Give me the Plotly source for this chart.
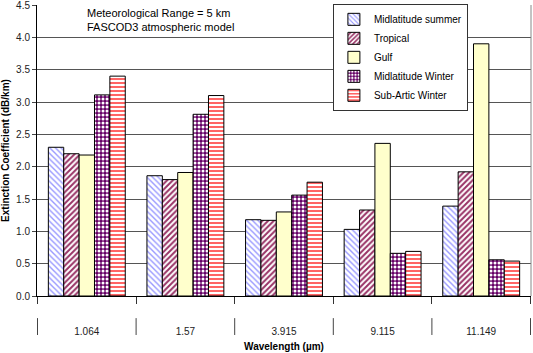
import plotly.graph_objects as go

# wavelength groups (um)
wavelengths = ["1.064", "1.57", "3.915", "9.115", "11.149"]

# extinction coefficient (dB/km) per atmospheric model
midlat_summer = [2.30, 1.86, 1.18, 1.03, 1.39]
tropical = [2.20, 1.80, 1.17, 1.33, 1.92]
gulf = [2.18, 1.91, 1.30, 2.36, 3.90]
midlat_winter = [3.11, 2.81, 1.56, 0.66, 0.56]
subartic_winter = [3.40, 3.10, 1.76, 0.69, 0.54]

series = [
    ("Midlatitude summer", midlat_summer,
     dict(shape="\\", fgcolor="#9999FF", bgcolor="white", size=4, solidity=0.35)),
    ("Tropical", tropical,
     dict(shape="/", fgcolor="#993366", bgcolor="white", size=4, solidity=0.5)),
    ("Gulf", gulf, None),
    ("Midlatitude Winter", midlat_winter,
     dict(shape=".", fgcolor="white", bgcolor="#660066", size=4, solidity=0.45)),
    ("Sub-Artic Winter", subartic_winter,
     dict(shape="-", fgcolor="#FF6666", bgcolor="white", size=4, solidity=0.5)),
]

FONT = "Arial, Liberation Sans, sans-serif"

fig = go.Figure()

for name, vals, pat in series:
    marker = dict(line=dict(color="black", width=1))
    if pat is None:
        marker["color"] = "#FFFFCC"
    else:
        marker["color"] = pat["bgcolor"]
        marker["pattern"] = dict(
            shape=pat["shape"], fgcolor=pat["fgcolor"], bgcolor=pat["bgcolor"],
            size=pat["size"], solidity=pat["solidity"], fillmode="replace"
        )
    fig.add_trace(go.Bar(x=wavelengths, y=vals, name=name, marker=marker))

# divider lines of the category label band
for i in range(len(wavelengths) + 1):
    fig.add_shape(
        type="line", xref="x", yref="paper",
        x0=i - 0.5, x1=i - 0.5, y0=-0.076, y1=-0.134,
        line=dict(color="#444", width=1)
    )

# plot frame on the right side
fig.add_shape(
    type="line", xref="paper", yref="paper", x0=1, x1=1, y0=0, y1=1,
    line=dict(color="#888", width=1)
)

fig.add_annotation(
    text="Meteorological Range = 5 km<br>FASCOD3 atmospheric model",
    xref="paper", yref="paper", x=0.097, y=1.0,
    xanchor="left", yanchor="top", align="left", showarrow=False,
    font=dict(family=FONT, size=11, color="black")
)

fig.update_layout(
    width=533,
    height=353,
    margin=dict(l=37, r=2, t=5, b=57),
    paper_bgcolor="white",
    plot_bgcolor="white",
    barmode="group",
    bargap=0.22,
    bargroupgap=0,
    font=dict(family=FONT, size=10, color="black"),
    showlegend=True,
    legend=dict(
        x=0.599, y=1.004, xanchor="left", yanchor="top",
        bgcolor="white", bordercolor="#333", borderwidth=1,
        font=dict(family=FONT, size=10, color="black"),
        itemwidth=30, tracegroupgap=0,
    ),
    xaxis=dict(
        type="category",
        automargin=False,
        tickson="boundaries",
        ticks="outside",
        ticklen=7,
        tickcolor="#333",
        showline=True,
        linecolor="black",
        showgrid=False,
        ticklabelstandoff=26,
        tickfont=dict(family=FONT, size=10, color="#222"),
        title=dict(
            text="<b>Wavelength (\u00b5m)</b>",
            font=dict(family=FONT, size=10, color="black"),
            standoff=6,
        ),
    ),
    yaxis=dict(
        automargin=False,
        range=[0, 4.5001],
        dtick=0.5,
        tickformat=".1f",
        ticklabeloverflow="allow",
        showline=True,
        linecolor="black",
        ticks="outside",
        ticklen=4,
        showgrid=True,
        gridcolor="#555",
        gridwidth=1,
        zeroline=False,
        tickfont=dict(family=FONT, size=10, color="#222"),
        title=dict(
            text="<b>Extinction Coefficient (dB/km)</b>",
            font=dict(family=FONT, size=10, color="black"),
            standoff=4,
        ),
    ),
)

# page body has a default 8px margin; drop it so the figure fills the window
fig.write_html(
    "out.html",
    config={"displayModeBar": False},
    post_script="document.body.style.margin='0';",
)
